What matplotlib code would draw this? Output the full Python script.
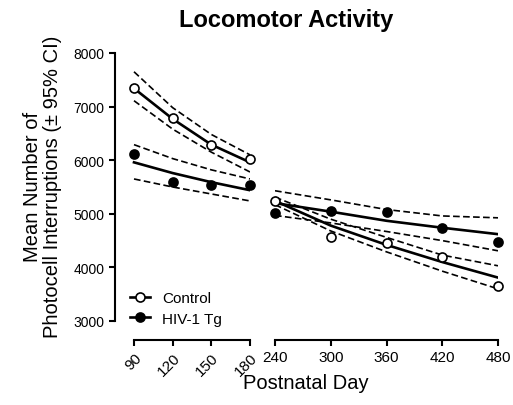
import matplotlib
matplotlib.use("Agg")
import matplotlib.pyplot as plt
from matplotlib.lines import Line2D

plt.rcParams['font.family'] = ['Liberation Sans', 'DejaVu Sans']

# Postnatal days for the two axis segments
days_early = [90, 120, 150, 180]
days_late = [240, 300, 360, 420, 480]

# Group means
control_early = [7350, 6780, 6285, 6020]
hiv_early = [6110, 5590, 5535, 5540]
control_late = [5235, 4560, 4450, 4190, 3660]
hiv_late = [5010, 5050, 5040, 4730, 4480]

# Fitted curves and 95% CI bands, read at each day
control_fit_early = [7340, 6770, 6290, 5960]
control_hi_early = [7650, 6980, 6480, 6100]
control_lo_early = [7110, 6580, 6150, 5780]
hiv_fit_early = [5960, 5760, 5590, 5440]
hiv_hi_early = [6290, 6030, 5820, 5650]
hiv_lo_early = [5650, 5500, 5370, 5240]

control_fit_late = [5240, 4780, 4420, 4100, 3810]
control_hi_late = [5310, 4900, 4560, 4230, 4030]
control_lo_late = [5170, 4680, 4290, 3930, 3600]
hiv_fit_late = [5200, 5040, 4870, 4740, 4620]
hiv_hi_late = [5430, 5260, 5080, 4960, 4925]
hiv_lo_late = [4970, 4830, 4670, 4500, 4310]

yticks = [3000, 4000, 5000, 6000, 7000, 8000]

W, H = 513, 406
fig = plt.figure(figsize=(W / 100, H / 100), dpi=100)

ax1 = fig.add_axes([115 / W, 1 - 322 / H, 135 / W, 268 / H])
ax2 = fig.add_axes([275 / W, 1 - 322 / H, 223 / W, 268 / H])

dash = (0, (4, 2))
fit_kw = dict(color='black', lw=1.9, zorder=2)
ci_kw = dict(color='black', lw=1.2, linestyle=dash, zorder=2)
open_kw = dict(marker='o', ms=6.5, mfc='white', mec='black', mew=1.2, ls='none', zorder=3, clip_on=False)
fill_kw = dict(marker='o', ms=6.5, mfc='black', mec='black', mew=1.2, ls='none', zorder=3, clip_on=False)

for ax, x, cm, hm, cf, ch, cl, hf, hh, hl in [
    (ax1, days_early, control_early, hiv_early, control_fit_early, control_hi_early,
     control_lo_early, hiv_fit_early, hiv_hi_early, hiv_lo_early),
    (ax2, days_late, control_late, hiv_late, control_fit_late, control_hi_late,
     control_lo_late, hiv_fit_late, hiv_hi_late, hiv_lo_late),
]:
    ax.plot(x, cf, **fit_kw)
    ax.plot(x, ch, **ci_kw)
    ax.plot(x, cl, **ci_kw)
    ax.plot(x, hf, **fit_kw)
    ax.plot(x, hh, **ci_kw)
    ax.plot(x, hl, **ci_kw)
    ax.plot(x, cm, **open_kw)
    ax.plot(x, hm, **fill_kw)

    ax.set_ylim(3000, 8000)
    ax.set_xticks(x)
    ax.spines['top'].set_visible(False)
    ax.spines['right'].set_visible(False)
    ax.spines['bottom'].set_position(('outward', 13.7))
    ax.spines['bottom'].set_bounds(x[0], x[-1])
    ax.spines['bottom'].set_linewidth(1.5)
    ax.spines['left'].set_linewidth(1.5)
    ax.tick_params(width=1.5, length=4, labelsize=10, colors='black')
    ax.tick_params(axis='x', labelsize=11)

ax1.set_xlim(75.26, 180)
ax2.set_xlim(240, 480)

ax1.set_yticks(yticks)
ax1.set_xticklabels([str(d) for d in days_early], rotation=45, ha='right',
                    va='top', rotation_mode='anchor')
ax2.spines['left'].set_visible(False)
ax2.set_yticks([])
ax2.set_xticklabels([str(d) for d in days_late])

fig.text(286 / W, 1 - 20 / H, "Locomotor Activity", fontsize=17, fontweight='bold',
         ha='center', va='center')
fig.text(306 / W, 1 - 384 / H, "Postnatal Day", fontsize=14.5, ha='center', va='center')
fig.text(42.5 / W, 1 - 187 / H, "Mean Number of\nPhotocell Interruptions (\u00b1 95% CI)",
         fontsize=14.5, rotation=90, ha='center', va='center', linespacing=1.12)

handles = [
    Line2D([], [], color='black', lw=1.9, marker='o', ms=6.5, mfc='white', mec='black', mew=1.2),
    Line2D([], [], color='black', lw=1.9, marker='o', ms=6.5, mfc='black', mec='black', mew=1.2),
]
fig.legend(handles, ['Control', 'HIV-1 Tg'], loc='upper left',
           bbox_to_anchor=(130 / W, 1 - 292 / H), bbox_transform=fig.transFigure,
           frameon=False, fontsize=11, borderpad=0, borderaxespad=0,
           handlelength=1.3, handletextpad=0.78, labelspacing=0.44, numpoints=1)

fig.savefig("out.png", dpi=100)
